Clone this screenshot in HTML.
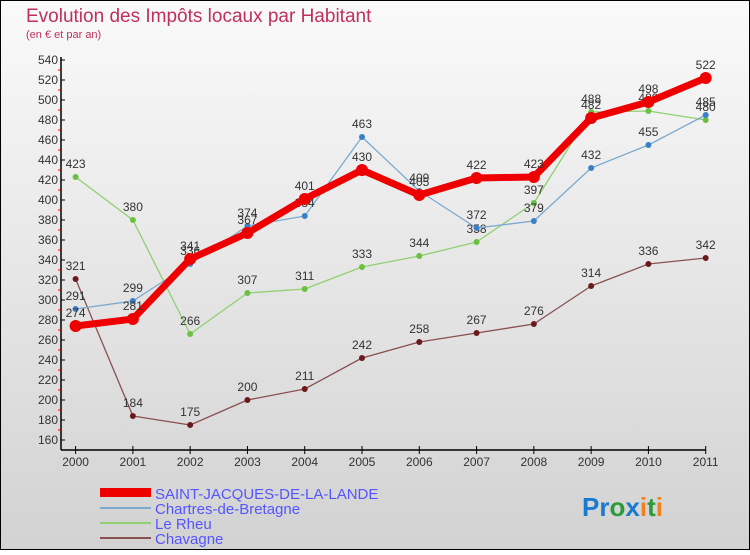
<!DOCTYPE html>
<html><head><meta charset="utf-8"><style>
body{margin:0;width:750px;height:550px;overflow:hidden;font-family:"Liberation Sans",sans-serif}
</style></head><body>
<svg id="c" width="750" height="550" xmlns="http://www.w3.org/2000/svg">
<defs><linearGradient id="bg" x1="0" y1="0" x2="0" y2="1"><stop offset="0" stop-color="#fafafa"/><stop offset="1" stop-color="#d2d2d2"/></linearGradient></defs>
<rect x="0.5" y="0.5" width="749" height="549" fill="url(#bg)" stroke="#000"/>
<text x="26" y="22" font-size="19" fill="#c0305a">Evolution des Impôts locaux par Habitant</text>
<text x="26" y="38" font-size="11" fill="#c0305a">(en € et par an)</text>
<g id="axes"></g><g id="series"></g>
<g>
<rect x="100" y="488" width="51" height="9" fill="#e00"/>
<text x="155" y="499" font-size="15" fill="#55f">SAINT-JACQUES-DE-LA-LANDE</text>
<line x1="100" y1="508" x2="151" y2="508" stroke="#7aaad0" stroke-width="2"/>
<text x="155" y="514" font-size="15" fill="#55f">Chartres-de-Bretagne</text>
<line x1="100" y1="523" x2="151" y2="523" stroke="#90d070" stroke-width="2"/>
<text x="155" y="529" font-size="15" fill="#55f">Le Rheu</text>
<line x1="100" y1="538" x2="151" y2="538" stroke="#8a5050" stroke-width="2"/>
<text x="155" y="544" font-size="15" fill="#55f">Chavagne</text>
</g>
<text x="582" y="516" font-size="26" font-weight="bold"><tspan fill="#1a7ad0">Pr</tspan><tspan fill="#2a9a3a">o</tspan><tspan fill="#1a7ad0">x</tspan><tspan fill="#f08020">i</tspan><tspan fill="#2a9a3a">t</tspan><tspan fill="#f08020">i</tspan></text>
</svg>
<script>
const years=["2000","2001","2002","2003","2004","2005","2006","2007","2008","2009","2010","2011"];
const yTicks=[160,180,200,220,240,260,280,300,320,340,360,380,400,420,440,460,480,500,520,540];
const sjValues=[274,281,341,367,401,430,405,422,423,482,498,522];
const chartresValues=[291,299,336,374,384,463,409,372,379,432,455,485];
const rheuValues=[423,380,266,307,311,333,344,358,397,488,489,480];
const chavagneValues=[321,184,175,200,211,242,258,267,276,314,336,342];
const NS="http://www.w3.org/2000/svg";
function xs(i){return 75.6+i*(705.7-75.6)/(years.length-1);}
function ys(v){return 440-(v-160)*(380/380);}
function mk(tag,attrs,parent){const e=document.createElementNS(NS,tag);for(const k in attrs)e.setAttribute(k,attrs[k]);parent.appendChild(e);return e;}
const ax=document.getElementById('axes');
const yAxis=mk('line',{x1:61,y1:57,x2:61,y2:450,stroke:'#000','stroke-width':1.5},ax);


const xAxis=mk('line',{x1:61,y1:450,x2:706,y2:450,stroke:'#000','stroke-width':1.5},ax);


yTicks.forEach(v=>{
 mk('line',{x1:61,y1:ys(v),x2:65,y2:ys(v),stroke:'#000'},ax);
 if(v<540)mk('line',{x1:58,y1:ys(v+10),x2:61,y2:ys(v+10),stroke:'#e00'},ax);
 const t=mk('text',{x:58,y:ys(v)+4,'font-size':12,'text-anchor':'end',fill:'#333'},ax);
 
 
 t.textContent=v;
});
years.forEach((y,i)=>{
 mk('line',{x1:xs(i),y1:446,x2:xs(i),y2:454,stroke:'#000'},ax);
 const t=mk('text',{x:xs(i),y:466,'font-size':12,'text-anchor':'middle',fill:'#333'},ax);
 
 
 t.textContent=y;
});
const sg=document.getElementById('series');
function draw(vals,color,width,r,dot,name){
 const g=mk('g',{},sg);
 
 
 mk('polyline',{points:vals.map((v,i)=>xs(i)+','+ys(v)).join(' '),fill:'none',stroke:color,'stroke-width':width,'stroke-linejoin':'round'},g);
 vals.forEach((v,i)=>{
  const c=mk('circle',{cx:xs(i),cy:ys(v),r:r,fill:dot},g);
  
  
  const t=mk('text',{x:xs(i),y:ys(v)-9,'font-size':12,'text-anchor':'middle',fill:'#333'},g);
  
  
  t.textContent=v;
 });
}
draw(chavagneValues,'#8a5050',1.3,3,'#6a1a1a','series-chavagne');
draw(rheuValues,'#90d070',1.3,3,'#6ac040','series-le-rheu');
draw(chartresValues,'#7aaad0',1.3,3,'#3a80c8','series-chartres');
draw(sjValues,'#e00',7,6,'#e00','series-saint-jacques');
</script>
</body></html>
